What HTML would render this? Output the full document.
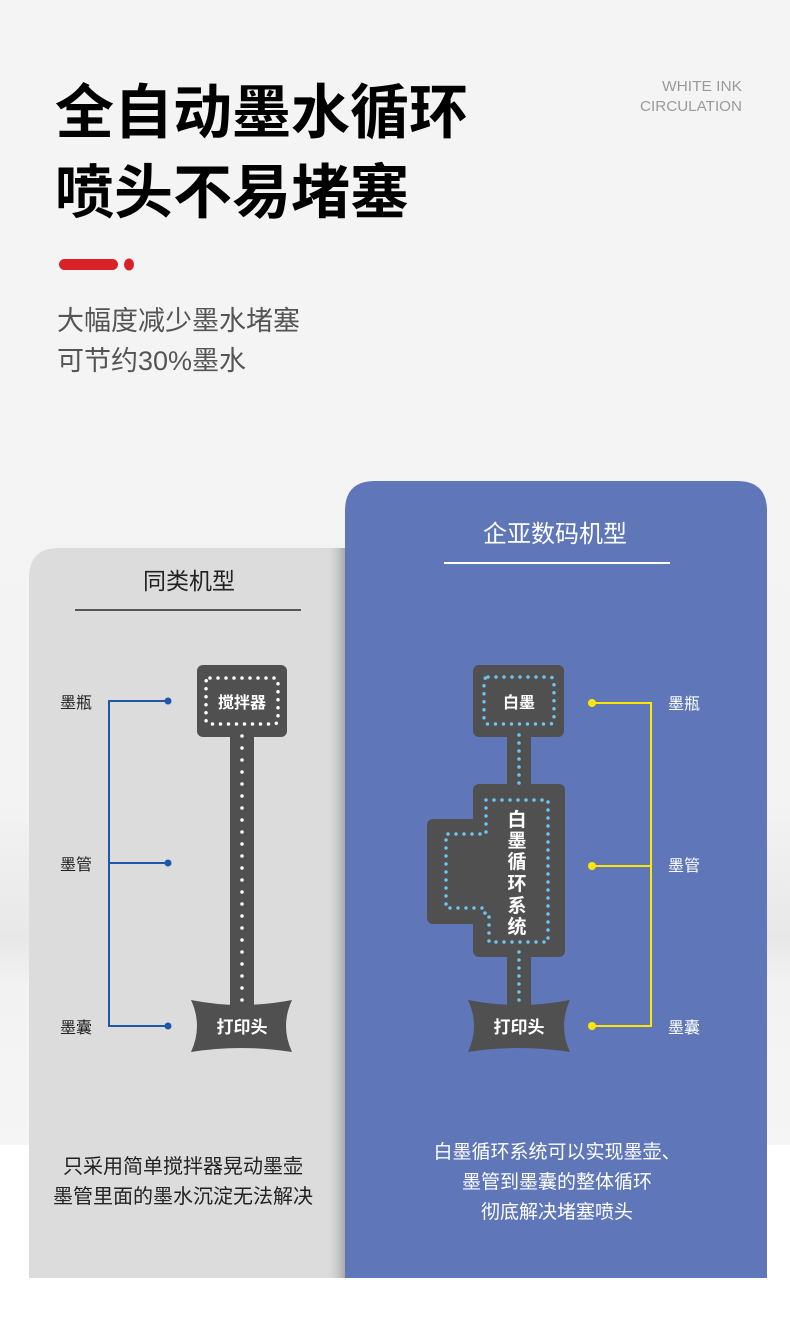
<!DOCTYPE html>
<html><head><meta charset="utf-8"><style>
html,body{margin:0;padding:0;width:790px;height:1326px;overflow:hidden;background:#fff}
svg{display:block}
text{font-family:"Liberation Sans","Noto Sans CJK SC",sans-serif}
</style></head><body>
<svg width="790" height="1326" viewBox="0 0 790 1326" xmlns="http://www.w3.org/2000/svg">
<defs>
<linearGradient id="bg" x1="0" y1="0" x2="0" y2="1">
<stop offset="0" stop-color="#f4f4f4"/><stop offset="0.7" stop-color="#f3f3f3"/><stop offset="0.82" stop-color="#e8e8e8"/><stop offset="0.86" stop-color="#f2f2f2"/><stop offset="1" stop-color="#f5f5f5"/>
</linearGradient>
<linearGradient id="sh" x1="0" y1="0" x2="1" y2="0">
<stop offset="0" stop-color="#dcdcdc" stop-opacity="0"/><stop offset="1" stop-color="#a8a8a8"/>
</linearGradient>
</defs>
<rect width="790" height="1145" fill="url(#bg)"/>
<rect y="1145" width="790" height="181" fill="#fff"/>

<text x="55" y="133" font-size="59" font-weight="bold" fill="#000">全自动墨水循环</text>
<text x="55" y="213" font-size="59" font-weight="bold" fill="#000">喷头不易堵塞</text>
<text x="742" y="91" font-size="15" fill="#9a9a9a" text-anchor="end" textLength="80" lengthAdjust="spacingAndGlyphs">WHITE INK</text>
<text x="742" y="111" font-size="15" fill="#9a9a9a" text-anchor="end" textLength="102" lengthAdjust="spacingAndGlyphs">CIRCULATION</text>
<rect x="59" y="259" width="59" height="11" rx="5.5" fill="#d92128"/>
<ellipse cx="129" cy="264.5" rx="5" ry="6" fill="#d92128"/>
<text x="57" y="330" font-size="27" fill="#555">大幅度减少墨水堵塞</text>
<text x="57" y="370" font-size="27" fill="#555">可节约30%墨水</text>

<!-- left card -->
<path d="M29 1278 V578 Q29 548 59 548 H345 V1278 Z" fill="#dcdcdc"/>
<rect x="325" y="548" width="20" height="730" fill="url(#sh)"/>
<text x="189" y="589" font-size="23" fill="#222" text-anchor="middle">同类机型</text>
<rect x="75" y="609" width="226" height="2" fill="#555"/>

<!-- right card -->
<path d="M345 1278 V511 Q345 481 375 481 H737 Q767 481 767 511 V1278 Z" fill="#5f77b9"/>
<text x="555" y="542" font-size="24" fill="#fff" text-anchor="middle">企亚数码机型</text>
<rect x="444" y="562" width="226" height="2" fill="#fff"/>

<!-- left diagram -->
<g fill="#505050">
<rect x="197" y="665" width="90" height="72" rx="6"/>
<rect x="230" y="730" width="24" height="280"/>
<path d="M191 1000 Q241 1010 292 1000 Q280 1026 292 1052 Q241 1044 191 1052 Q203 1026 191 1000Z"/>
</g>
<rect x="206" y="678" width="72" height="46" rx="4" fill="none" stroke="#fff" stroke-width="3.5" stroke-dasharray="0 8" stroke-linecap="round"/>
<line x1="242" y1="736" x2="242" y2="1004" stroke="#fff" stroke-width="3.5" stroke-dasharray="0 12" stroke-linecap="round"/>
<text x="242" y="708" font-size="16" font-weight="bold" fill="#fff" text-anchor="middle">搅拌器</text>
<text x="242" y="1033" font-size="17" font-weight="bold" fill="#fff" text-anchor="middle">打印头</text>

<g stroke="#1f57a8" stroke-width="2" fill="none">
<path d="M168 701 H109 V1026 H168"/><path d="M109 863 H168"/>
</g>
<g fill="#1f57a8"><circle cx="168" cy="701" r="3.5"/><circle cx="168" cy="863" r="3.5"/><circle cx="168" cy="1026" r="3.5"/></g>
<text x="60" y="708" font-size="16" fill="#222">墨瓶</text>
<text x="60" y="870" font-size="16" fill="#222">墨管</text>
<text x="60" y="1033" font-size="16" fill="#222">墨囊</text>

<!-- right diagram -->
<g fill="#505050">
<rect x="473" y="665" width="91" height="72" rx="6"/>
<rect x="507" y="730" width="24" height="280"/>
<rect x="473" y="784" width="92" height="173" rx="6"/>
<rect x="427" y="819" width="60" height="105" rx="6"/>
<path d="M468 1000 Q519 1010 570 1000 Q558 1026 570 1052 Q519 1044 468 1052 Q480 1026 468 1000Z"/>
</g>
<g fill="none" stroke="#6cc4ee" stroke-width="3.5" stroke-dasharray="0 8" stroke-linecap="round">
<rect x="484" y="677" width="70" height="47" rx="4"/>
<line x1="519" y1="735" x2="519" y2="791"/>
<path d="M486 800 H548 V942 H489 V917 H485 V908 H446 V834 H486 Z"/>
<line x1="519" y1="952" x2="519" y2="1002"/>
</g>
<text x="519" y="708" font-size="16" font-weight="bold" fill="#fff" text-anchor="middle">白墨</text>
<g font-size="19" font-weight="bold" fill="#fff" text-anchor="middle">
<text x="517" y="826">白</text><text x="517" y="847">墨</text><text x="517" y="868">循</text><text x="517" y="890">环</text><text x="517" y="912">系</text><text x="517" y="933">统</text>
</g>
<text x="519" y="1033" font-size="17" font-weight="bold" fill="#fff" text-anchor="middle">打印头</text>

<g stroke="#ffe600" stroke-width="2" fill="none">
<path d="M592 703 H651 V1026 H592"/><path d="M651 866 H592"/>
</g>
<g fill="#ffe600"><circle cx="592" cy="703" r="4"/><circle cx="592" cy="866" r="4"/><circle cx="592" cy="1026" r="4"/></g>
<text x="668" y="709" font-size="16" fill="#fff">墨瓶</text>
<text x="668" y="871" font-size="16" fill="#fff">墨管</text>
<text x="668" y="1033" font-size="16" fill="#fff">墨囊</text>

<text x="183" y="1173" font-size="20" fill="#222" text-anchor="middle">只采用简单搅拌器晃动墨壶</text>
<text x="183" y="1203" font-size="20" fill="#222" text-anchor="middle">墨管里面的墨水沉淀无法解决</text>
<text x="557" y="1158" font-size="19" fill="#fff" text-anchor="middle">白墨循环系统可以实现墨壶、</text>
<text x="557" y="1188" font-size="19" fill="#fff" text-anchor="middle">墨管到墨囊的整体循环</text>
<text x="557" y="1218" font-size="19" fill="#fff" text-anchor="middle">彻底解决堵塞喷头</text>
</svg>
</body></html>
